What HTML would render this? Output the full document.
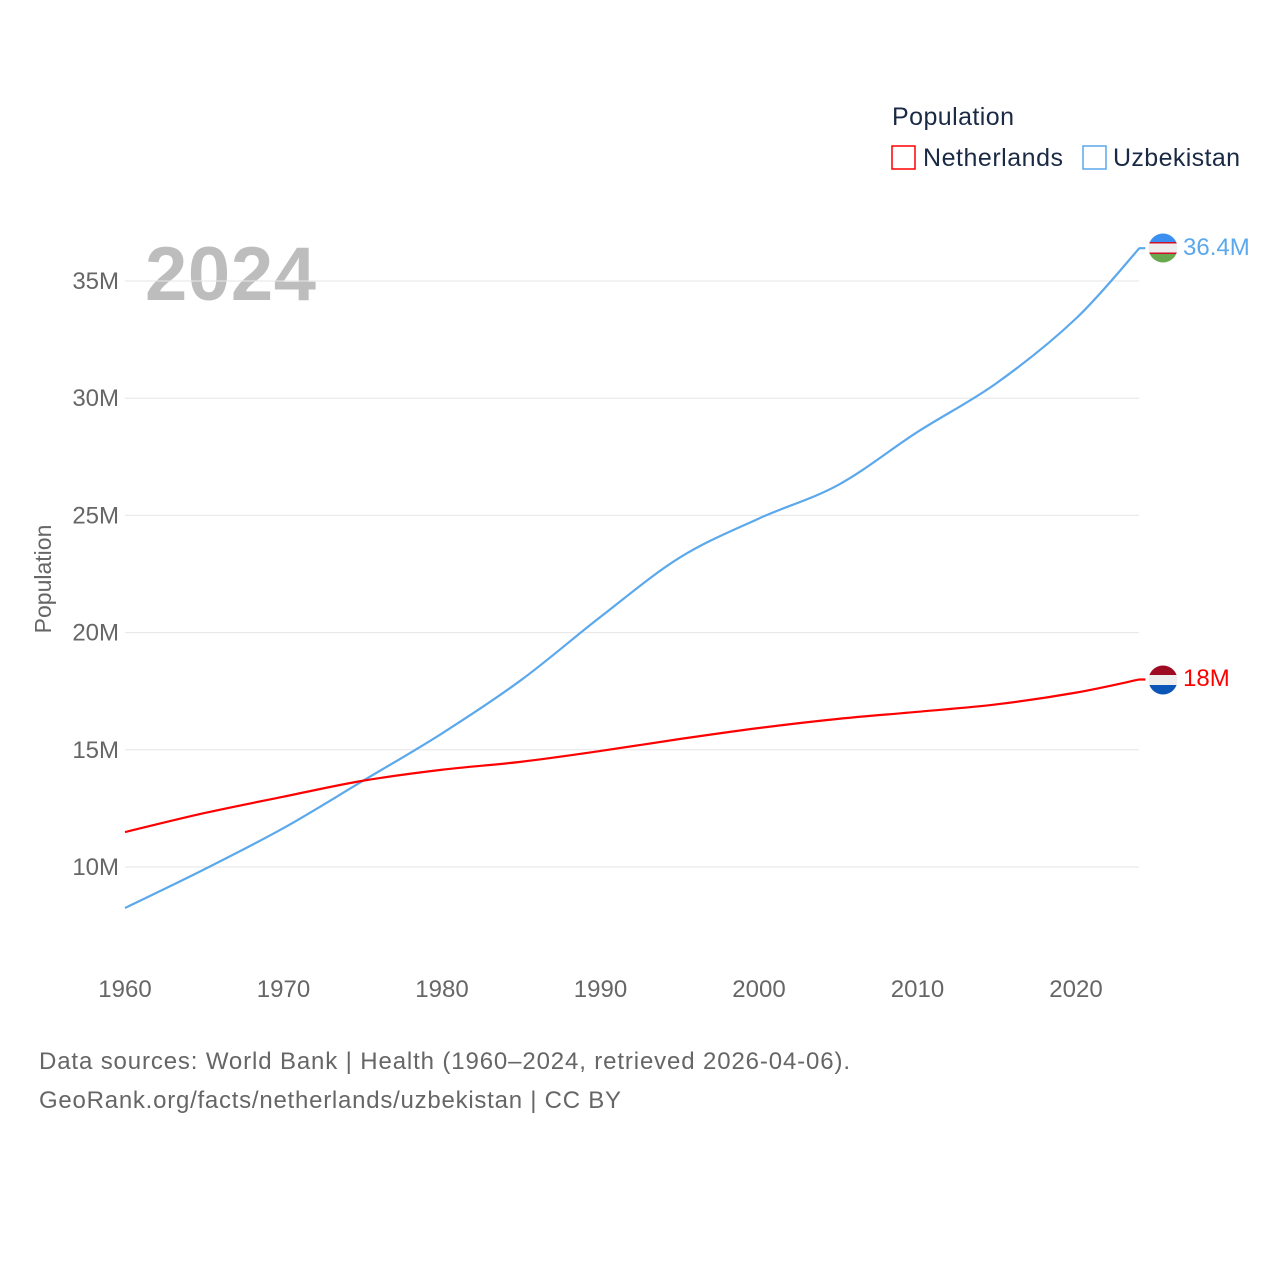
<!DOCTYPE html>
<html><head><meta charset="utf-8"><style>
body{margin:0;background:#fff;width:1280px;height:1280px;overflow:hidden;font-family:"Liberation Sans",sans-serif}
</style></head><body>
<svg id="chart" width="1280" height="1280" xmlns="http://www.w3.org/2000/svg">
<text x="892" y="125" font-size="25" fill="#1a2a44" textLength="122">Population</text>
<rect x="892" y="146" width="23" height="23" fill="none" stroke="#ff0000" stroke-width="1.5"/>
<text x="923" y="166" font-size="25" fill="#1a2a44" textLength="140">Netherlands</text>
<rect x="1083" y="146" width="23" height="23" fill="none" stroke="#5ba8ec" stroke-width="1.5"/>
<text x="1113" y="166" font-size="25" fill="#1a2a44" textLength="127">Uzbekistan</text>
<text x="145" y="300" font-size="76" font-weight="bold" fill="#bdbdbd" textLength="171">2024</text>
<text transform="translate(51,579) rotate(-90)" text-anchor="middle" font-size="23" fill="#666">Population</text>
<g id="grid"></g><g id="lines"></g>
<defs>
<clipPath id="cu"><circle cx="1163" cy="248" r="14.5"/></clipPath>
<clipPath id="cn"><circle cx="1163" cy="680" r="14.5"/></clipPath>
</defs>
<g clip-path="url(#cu)">
<rect x="1148" y="233" width="30" height="10" fill="#3a8ff0"/><rect x="1148" y="243" width="30" height="10" fill="#eee"/>
<rect x="1148" y="242" width="30" height="1.5" fill="#d0102a"/><rect x="1148" y="252.5" width="30" height="1.5" fill="#d0102a"/>
<rect x="1148" y="254" width="30" height="10" fill="#6aa84f"/></g>
<g clip-path="url(#cn)">
<rect x="1148" y="665" width="30" height="10" fill="#9e0a22"/><rect x="1148" y="675" width="30" height="10" fill="#eee"/>
<rect x="1148" y="685" width="30" height="11" fill="#0b55b8"/></g>
<text x="1183" y="255" font-size="24" fill="#5ba8ec">36.4M</text>
<text x="1183" y="686" font-size="24" fill="#ff0000">18M</text>
<text x="39" y="1069" font-size="24" fill="#666" textLength="811">Data sources: World Bank | Health (1960–2024, retrieved 2026-04-06).</text>
<text x="39" y="1108" font-size="24" fill="#666" textLength="582">GeoRank.org/facts/netherlands/uzbekistan | CC BY</text>
</svg>
<script>
const years=[1960,1965,1970,1975,1980,1985,1990,1995,2000,2005,2010,2015,2020,2024];
const netherlands=[11.49,12.3,13.0,13.68,14.15,14.49,14.95,15.46,15.93,16.32,16.62,16.94,17.44,18.0];
const uzbekistan=[8.25,9.9,11.66,13.67,15.7,17.98,20.67,23.2,24.87,26.3,28.56,30.65,33.4,36.4];
const yTicks=[10,15,20,25,30,35];
const xTicks=[1960,1970,1980,1990,2000,2010,2020];
const NS="http://www.w3.org/2000/svg";
const X=y=>125+(y-1960)*(1076-125)/60;
const Y=v=>867-(v-10)*(867-281)/25;
const grid=document.getElementById('grid'),lines=document.getElementById('lines');
yTicks.forEach(t=>{
 const l=document.createElementNS(NS,'line');
 l.setAttribute('x1',125);l.setAttribute('x2',1139);l.setAttribute('y1',Y(t));l.setAttribute('y2',Y(t));
 l.setAttribute('stroke','#e6e6e6');l.setAttribute('stroke-width',1);
 
 
 grid.appendChild(l);
 const tx=document.createElementNS(NS,'text');
 tx.setAttribute('x',119);tx.setAttribute('y',Y(t)+8);tx.setAttribute('text-anchor','end');
 tx.setAttribute('font-size',24);tx.setAttribute('fill','#666');tx.textContent=t+'M';
 
 
 grid.appendChild(tx);
});
xTicks.forEach(t=>{
 const tx=document.createElementNS(NS,'text');
 tx.setAttribute('x',X(t));tx.setAttribute('y',997);tx.setAttribute('text-anchor','middle');
 tx.setAttribute('font-size',24);tx.setAttribute('fill','#666');tx.textContent=t;
 
 
 grid.appendChild(tx);
});
function path(vals){
 const p=years.map((y,i)=>[X(y),Y(vals[i])]);
 let d='M'+p[0][0]+','+p[0][1];
 for(let i=0;i<p.length-1;i++){
  const p0=p[i-1]||p[i],p1=p[i],p2=p[i+1],p3=p[i+2]||p2;
  const c1=[p1[0]+(p2[0]-p0[0])/6,p1[1]+(p2[1]-p0[1])/6];
  const c2=[p2[0]-(p3[0]-p1[0])/6,p2[1]-(p3[1]-p1[1])/6];
  d+=' C'+c1+' '+c2+' '+p2;
 }
 d+=' L'+(p[p.length-1][0]+6)+','+p[p.length-1][1];
 return d;
}
[[uzbekistan,'#5ba8ec','uzbekistan-line'],[netherlands,'#ff0000','netherlands-line']].forEach(s=>{
 const e=document.createElementNS(NS,'path');
 e.setAttribute('d',path(s[0]));e.setAttribute('fill','none');e.setAttribute('stroke',s[1]);e.setAttribute('stroke-width',2.2);
 
 
 lines.appendChild(e);
});
</script>
</body></html>
